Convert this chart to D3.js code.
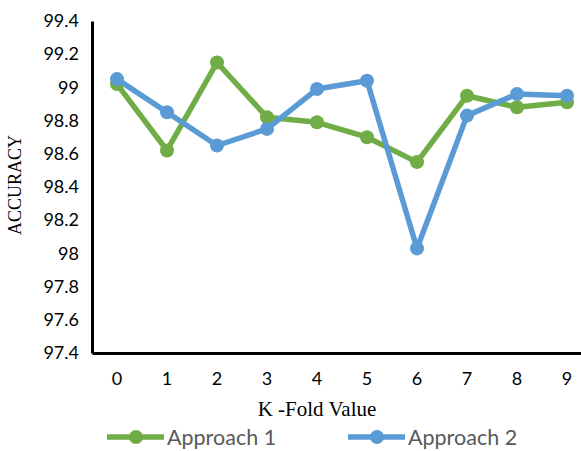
<!DOCTYPE html>
<html>
<head>
<meta charset="utf-8">
<script src="https://cdn.jsdelivr.net/npm/d3@7"></script>
<style>
  html, body { margin: 0; padding: 0; background: #fff; }
  svg { display: block; }
</style>
</head>
<body>
<svg id="chart" width="581" height="451"></svg>
<script>
// K-fold values on the x axis
const folds = [0, 1, 2, 3, 4, 5, 6, 7, 8, 9];
// Accuracy per fold for each approach
const approach1 = [99.02, 98.62, 99.15, 98.82, 98.79, 98.70, 98.55, 98.95, 98.88, 98.91];
const approach2 = [99.05, 98.85, 98.65, 98.75, 98.99, 99.04, 98.03, 98.83, 98.96, 98.95];
// Y axis tick values
const yTicks = [97.4, 97.6, 97.8, 98, 98.2, 98.4, 98.6, 98.8, 99, 99.2, 99.4];
const seriesNames = ["Approach 1", "Approach 2"];
const seriesColors = ["#70AD47", "#5B9BD5"];

const svg = d3.select("#chart");
const plotLeft = 92, plotRight = 592, plotTop = 21, plotBottom = 353;

const x = d3.scaleBand().domain(folds).range([plotLeft, plotRight]);
const y = d3.scaleLinear().domain([97.4, 99.4]).range([plotBottom, plotTop]);

const tickFont = "Lato, 'Open Sans', sans-serif";

// Y axis
const yAxis = svg.append("g")
  .attr("transform", `translate(${plotLeft},0)`)
  .call(d3.axisLeft(y).tickValues(yTicks).tickSize(0).tickPadding(13)
    .tickFormat(d => d3.format("~g")(d)));
yAxis.select(".domain").attr("stroke", "#000").attr("stroke-width", 3);
yAxis.selectAll("text").attr("font-family", tickFont).attr("font-size", 18).attr("fill", "#000");

// X axis
const xAxis = svg.append("g")
  .attr("transform", `translate(0,${plotBottom})`)
  .call(d3.axisBottom(x).tickSize(0).tickPadding(19));
xAxis.select(".domain").attr("stroke", "#000").attr("stroke-width", 3);
xAxis.selectAll("text").attr("font-family", tickFont).attr("font-size", 18).attr("fill", "#000");

// Axis titles
svg.append("text")
  .attr("x", 317).attr("y", 416)
  .attr("text-anchor", "middle")
  .attr("font-family", "'Liberation Serif', 'Times New Roman', serif")
  .attr("font-size", 21)
  .attr("fill", "#000")
  .text("K -Fold Value");

svg.append("text")
  .attr("transform", "translate(21,185) rotate(-90)")
  .attr("text-anchor", "middle")
  .attr("font-family", "'Liberation Serif', 'Times New Roman', serif")
  .attr("font-size", 18)
  .attr("fill", "#000")
  .text("ACCURACY");

// Series lines and markers
const cx = d => x(d) + x.bandwidth() / 2;
const line = d3.line().x((d, i) => cx(folds[i])).y(d => y(d));

[approach1, approach2].forEach((vals, s) => {
  const g = svg.append("g");
  g.append("path")
    .datum(vals)
    .attr("d", line)
    .attr("fill", "none")
    .attr("stroke", seriesColors[s])
    .attr("stroke-width", 5.5)
    .attr("stroke-linejoin", "round");
  g.selectAll("circle")
    .data(vals)
    .join("circle")
    .attr("cx", (d, i) => cx(folds[i]))
    .attr("cy", d => y(d))
    .attr("r", 7)
    .attr("fill", seriesColors[s]);
});

// Legend
const legendX = [107, 348];
seriesNames.forEach((name, s) => {
  const g = svg.append("g").attr("transform", `translate(${legendX[s]},437)`);
  g.append("line")
    .attr("x1", 0).attr("x2", 57)
    .attr("y1", 0).attr("y2", 0)
    .attr("stroke", seriesColors[s])
    .attr("stroke-width", 5.5);
  g.append("circle")
    .attr("cx", 29).attr("cy", 0).attr("r", 7)
    .attr("fill", seriesColors[s]);
  g.append("text")
    .attr("x", 60).attr("y", 7.5)
    .attr("font-family", tickFont)
    .attr("font-size", 21.5)
    .attr("fill", "#595959")
    .text(name);
});
</script>
</body>
</html>
